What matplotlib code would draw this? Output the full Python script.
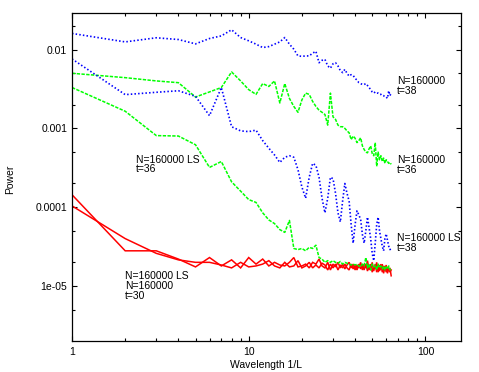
import matplotlib
matplotlib.use("Agg")
import matplotlib.pyplot as plt
from matplotlib.ticker import LogLocator, NullFormatter, FixedLocator, FixedFormatter

plt.rcParams['font.family'] = ['Liberation Sans', 'DejaVu Sans']

wavelength = list(range(1, 65))

blue_t38 = [0.016, 0.0125, 0.0141, 0.0134, 0.0118, 0.0138, 0.0149, 0.0178, 0.0142, 0.0129,
            0.0117, 0.0106, 0.0109, 0.0117, 0.0125, 0.0142, 0.0117, 0.0101, 0.0083, 0.0082,
            0.0083, 0.0083, 0.009, 0.0095, 0.0068, 0.0073, 0.0075, 0.0062, 0.0058, 0.0066,
            0.0068, 0.0062, 0.0054, 0.0051, 0.0056, 0.005, 0.0046, 0.0048, 0.0047, 0.0043,
            0.0041, 0.0038, 0.0037, 0.0036, 0.0036, 0.0037, 0.0035, 0.0033, 0.0031, 0.0029,
            0.0028, 0.0029, 0.0028, 0.0028, 0.0027, 0.0027, 0.0026, 0.0026, 0.0025, 0.0025,
            0.0024, 0.003, 0.0026, 0.0028]

blue_ls_t38 = [0.0076, 0.00268, 0.00287, 0.0030, 0.00255, 0.00145, 0.0033, 0.00105, 0.00093, 0.00091,
               0.00095, 0.0007, 0.00056, 0.00046, 0.00037, 0.00043, 0.00045, 0.00043, 0.0003, 0.00018,
               0.00013, 0.00024, 0.00036, 0.00034, 0.00024, 0.00013, 8.5e-5, 0.00013, 0.00024, 0.00023,
               0.00015, 8.5e-5, 6.5e-5, 0.00012, 0.0002, 0.00015, 0.00012, 6e-5, 3.5e-5, 6e-5,
               9e-5, 8e-5, 7e-5, 4.5e-5, 3.5e-5, 5e-5, 7.5e-5, 5.5e-5, 4e-5, 2.6e-5,
               2.1e-5, 3.5e-5, 6e-5, 7.5e-5, 5e-5, 4e-5, 3.2e-5, 2.8e-5, 4e-5, 4.6e-5,
               3.8e-5, 3.2e-5, 2.9e-5, 3e-5]

green_t36 = [0.0050, 0.0044, 0.0040, 0.0038, 0.0025, 0.0029, 0.0033, 0.0052, 0.0040, 0.0031,
             0.0027, 0.0037, 0.0034, 0.0040, 0.0021, 0.0037, 0.0024, 0.0019, 0.0016, 0.0023,
             0.0028, 0.0027, 0.0022, 0.0019, 0.0017, 0.0016, 0.0015, 0.0011, 0.0028, 0.0014,
             0.0013, 0.0011, 0.00105, 0.00105, 0.0010, 0.00093, 0.00088, 0.00072, 0.0008, 0.00075,
             0.00066, 0.0007, 0.00076, 0.0006, 0.00054, 0.0005, 0.00049, 0.00055, 0.0006, 0.00048,
             0.00045, 0.00066, 0.00033, 0.0005, 0.0004, 0.00045, 0.00038, 0.00042, 0.00036, 0.0004,
             0.00038, 0.00036, 0.00037, 0.00035]

green_ls_t36 = [0.0033, 0.00165, 0.00081, 0.0008, 0.00062, 0.00032, 0.00038, 0.00021, 0.00016, 0.000125,
                0.000115, 8.5e-5, 6.9e-5, 6.2e-5, 5.2e-5, 4.8e-5, 6.8e-5, 3.0e-5, 2.9e-5, 3.0e-5,
                2.8e-5, 3.1e-5, 3.0e-5, 3.3e-5, 2.3e-5, 2.2e-5, 2.0e-5, 2.1e-5, 2.0e-5, 2.1e-5,
                2.0e-5, 1.95e-5, 2.05e-5, 1.9e-5, 2.0e-5, 1.95e-5, 1.9e-5, 1.85e-5, 1.9e-5, 1.85e-5,
                1.9e-5, 1.8e-5, 1.75e-5, 1.9e-5, 1.8e-5, 2.3e-5, 1.7e-5, 1.9e-5, 1.6e-5, 1.9e-5,
                1.75e-5, 1.85e-5, 1.6e-5, 1.9e-5, 1.7e-5, 1.8e-5, 1.65e-5, 1.8e-5, 1.6e-5, 1.75e-5,
                1.65e-5, 1.8e-5, 1.6e-5, 1.7e-5]

red_ls_t30 = [1.44e-4, 2.8e-5, 2.8e-5, 2.2e-5, 1.75e-5, 2.3e-5, 1.8e-5, 2.15e-5, 1.7e-5, 2.3e-5,
              1.9e-5, 2.2e-5, 1.8e-5, 2.0e-5, 1.85e-5, 1.8e-5, 2.0e-5, 2.3e-5, 1.75e-5, 1.8e-5,
              1.9e-5, 1.7e-5, 2.0e-5, 1.9e-5, 2.2e-5, 1.8e-5, 1.7e-5, 2.0e-5, 1.6e-5, 1.9e-5,
              1.75e-5, 2.0e-5, 1.7e-5, 1.9e-5, 1.65e-5, 1.85e-5, 2.0e-5, 1.7e-5, 1.9e-5, 1.6e-5,
              1.85e-5, 1.7e-5, 2.0e-5, 1.6e-5, 1.9e-5, 1.7e-5, 2.1e-5, 1.6e-5, 1.9e-5, 1.5e-5,
              1.8e-5, 1.65e-5, 2.0e-5, 1.5e-5, 1.85e-5, 1.6e-5, 1.9e-5, 1.45e-5, 1.8e-5, 1.5e-5,
              1.75e-5, 1.55e-5, 1.7e-5, 1.35e-5]

red_t30 = [1.04e-4, 4.0e-5, 2.6e-5, 2.15e-5, 2.0e-5, 2.0e-5, 1.85e-5, 1.7e-5, 2.0e-5, 1.75e-5,
           1.8e-5, 1.9e-5, 2.1e-5, 1.8e-5, 1.7e-5, 2.0e-5, 1.75e-5, 1.8e-5, 2.1e-5, 1.7e-5,
           1.8e-5, 2.0e-5, 1.7e-5, 1.85e-5, 1.7e-5, 1.95e-5, 1.85e-5, 1.6e-5, 1.9e-5, 1.7e-5,
           1.9e-5, 1.6e-5, 1.85e-5, 1.7e-5, 1.9e-5, 1.7e-5, 1.6e-5, 1.9e-5, 1.65e-5, 1.85e-5,
           1.6e-5, 1.9e-5, 1.65e-5, 1.85e-5, 1.6e-5, 1.9e-5, 1.55e-5, 1.85e-5, 1.6e-5, 2.0e-5,
           1.55e-5, 1.9e-5, 1.5e-5, 1.8e-5, 1.55e-5, 1.9e-5, 1.5e-5, 1.8e-5, 1.55e-5, 1.85e-5,
           1.45e-5, 1.7e-5, 1.5e-5, 1.6e-5]

x_ticks = [1, 10, 100]
x_tick_labels = ['1', '10', '100']
y_ticks = [1e-5, 1e-4, 1e-3, 1e-2]
y_tick_labels = ['1e-05', '0.0001', '0.001', '0.01']

fig = plt.figure(figsize=(4.79, 3.72), dpi=100)
ax = fig.add_axes([72/479, 1 - 340.5/372, (461 - 72)/479, (340.5 - 12.5)/372])
ax.set_xscale('log')
ax.set_yscale('log')

RED, GREEN, BLUE = '#ff0000', '#00ff00', '#0000ff'
ax.plot(wavelength, red_ls_t30, color=RED, lw=1.1, solid_joinstyle='miter')
ax.plot(wavelength, red_t30, color=RED, lw=1.1, solid_joinstyle='miter')
ax.plot(wavelength, green_t36, color=GREEN, lw=1.1, linestyle=(0, (2.2, 0.9)))
ax.plot(wavelength, green_ls_t36, color=GREEN, lw=1.1, linestyle=(0, (2.2, 0.9)))
ax.plot(wavelength, blue_t38, color=BLUE, lw=1.2, linestyle=(0, (0.9, 1.3)))
ax.plot(wavelength, blue_ls_t38, color=BLUE, lw=1.2, linestyle=(0, (0.9, 1.3)))

ax.set_xlim(1, 159)
ax.set_ylim(2.04e-6, 0.0295)

ax.xaxis.set_major_locator(FixedLocator(x_ticks))
ax.xaxis.set_major_formatter(FixedFormatter(x_tick_labels))
ax.xaxis.set_minor_locator(LogLocator(base=10, subs=range(2, 10)))
ax.xaxis.set_minor_formatter(NullFormatter())
ax.yaxis.set_major_locator(FixedLocator(y_ticks))
ax.yaxis.set_major_formatter(FixedFormatter(y_tick_labels))
ax.yaxis.set_minor_locator(LogLocator(base=10, subs=(2, 5)))
ax.yaxis.set_minor_formatter(NullFormatter())

ax.tick_params(which='both', direction='in', top=True, right=True, labelsize=7.5, width=0.8, colors='black')
ax.tick_params(which='major', length=3.8)
ax.tick_params(which='minor', length=2.2)
ax.tick_params(axis='x', which='major', pad=4.5)
ax.tick_params(axis='y', which='major', pad=3.5)
for s in ax.spines.values():
    s.set_linewidth(0.9)

ax.set_xlabel('Wavelength 1/L', fontsize=7.5)
ax.xaxis.set_label_coords(0.5, -0.058)
ax.set_ylabel('Power', fontsize=7.5)
ax.yaxis.set_label_coords(-0.147, 0.49)

tk = dict(fontsize=7.5, linespacing=0.95, ha='left', va='center', color='black')
ax.text(69.2, 0.00343, 'N=160000\nt=38', **tk)
ax.text(69.2, 3.46e-4, 'N=160000\nt=36', **tk)
ax.text(69.2, 3.5e-5, 'N=160000 LS\nt=38', **tk)
ax.text(2.30, 3.49e-4, 'N=160000 LS\nt=36', **tk)
ax.text(1.99, 1.0e-5, 'N=160000 LS\nN=160000\nt=30', **tk)

fig.savefig('out.png', dpi=100)
